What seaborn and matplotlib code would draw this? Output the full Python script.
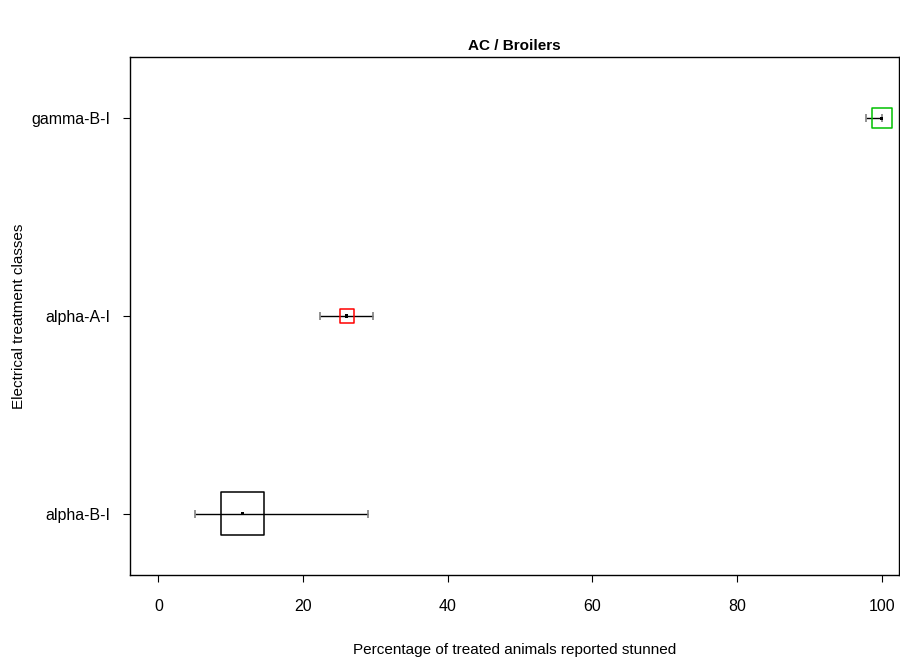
import matplotlib
matplotlib.use("Agg")
import matplotlib.pyplot as plt
import seaborn as sns
import pandas as pd

# data
classes = ["alpha-B-I", "alpha-A-I", "gamma-B-I"]
estimate = [11.6, 26.0, 100.0]
lower = [5.05, 22.3, 97.9]
upper = [29.0, 29.7, 100.0]

# styling
box_colors = ["black", "red", "#00C000"]
box_px = [43, 14, 20]

sns.set_style("ticks")
plt.rcParams["font.family"] = ["Liberation Sans", "DejaVu Sans"]
plt.rcParams["text.color"] = "black"
plt.rcParams["axes.labelcolor"] = "black"
plt.rcParams["xtick.color"] = "black"
plt.rcParams["ytick.color"] = "black"

df = pd.DataFrame({"cls": classes, "est": estimate, "lo": lower, "hi": upper})
df["pos"] = range(1, len(df) + 1)

fig = plt.figure(figsize=(9, 6.57), dpi=100)
ax = fig.add_axes([130 / 900, 1 - 575 / 657, 769 / 900, (575 - 57) / 657])

# whiskers
ax.hlines(df["pos"], df["lo"], df["hi"], color="black", lw=1, zorder=2)
ax.vlines(df["lo"], df["pos"] - 0.02, df["pos"] + 0.02, color="gray", lw=1.2, zorder=2)
ax.vlines(df["hi"], df["pos"] - 0.02, df["pos"] + 0.02, color="gray", lw=1.2, zorder=2)

# weight boxes
sizes = [(p * 0.72) ** 2 for p in box_px]
ax.scatter(df["est"], df["pos"], s=sizes, marker="s", facecolors="none",
           edgecolors=box_colors, linewidths=1.1, zorder=3)

# centre points
sns.scatterplot(data=df, x="est", y="pos", marker="s", color="black", s=6,
                edgecolor="none", ax=ax, zorder=4)

ax.set_xlim(-3.94, 102.4)
ax.set_ylim(0.69, 3.31)
ax.set_xticks([0, 20, 40, 60, 80, 100])
ax.set_yticks(df["pos"])
ax.set_yticklabels(df["cls"])
for s in ax.spines.values():
    s.set_visible(True)
    s.set_linewidth(1)
    s.set_color("black")
ax.tick_params(axis="x", length=5, width=0.8, pad=12, labelsize=11.5)
ax.tick_params(axis="y", length=5, width=0.8, pad=9, labelsize=11.5)

ax.set_xlabel("Percentage of treated animals reported stunned", fontsize=11, labelpad=21)
ax.set_ylabel("Electrical treatment classes", fontsize=11, labelpad=4)
ax.set_title("AC / Broilers", fontsize=11, fontweight="bold", pad=5)

fig.savefig("out.png", dpi=100)
